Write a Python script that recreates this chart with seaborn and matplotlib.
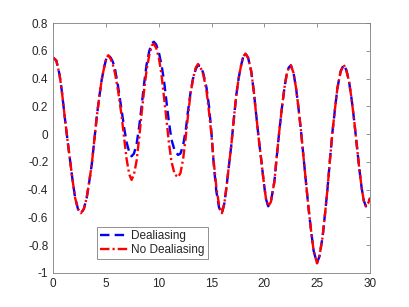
import numpy as np
import matplotlib
matplotlib.use('Agg')
import matplotlib.pyplot as plt
import seaborn as sns

# valores
t = [0.0, 0.3, 0.6, 0.82, 1.13, 1.4, 1.6, 1.85, 2.08, 2.35, 2.62, 2.9, 3.17, 3.4, 3.65, 3.9,
     4.12, 4.35, 4.59, 4.85, 5.05, 5.22, 5.45, 5.65, 5.85, 6.15, 6.48, 6.75, 6.95, 7.2, 7.42,
     7.65, 7.9, 8.15, 8.37, 8.6, 8.84, 9.1, 9.35, 9.53, 9.75, 10.0, 10.25, 10.5, 10.73, 10.95,
     11.2, 11.5, 11.82, 12.05, 12.3, 12.55, 12.77, 13.0, 13.24, 13.5, 13.71, 13.95, 14.2, 14.5,
     14.75, 14.97, 15.2, 15.44, 15.7, 15.97, 16.2, 16.39, 16.6, 16.86, 17.1, 17.33, 17.55, 17.8,
     18.0, 18.2, 18.45, 18.75, 19.0, 19.2, 19.45, 19.7, 19.95, 20.15, 20.35, 20.6, 20.94, 21.15,
     21.4, 21.65, 21.9, 22.1, 22.3, 22.5, 22.75, 22.99, 23.2, 23.46, 23.7, 23.93, 24.15, 24.4,
     24.65, 24.97, 25.2, 25.5, 25.75, 25.97, 26.2, 26.44, 26.7, 26.9, 27.2, 27.5, 27.75, 28.0,
     28.25, 28.5, 28.75, 28.96, 29.2, 29.4, 29.6, 29.8, 30.0]

no_dealias = [0.55, 0.53, 0.43, 0.31, 0.10, -0.07, -0.19, -0.34, -0.46, -0.54, -0.57, -0.54,
              -0.46, -0.35, -0.22, -0.04, 0.12, 0.26, 0.39, 0.49, 0.55, 0.568, 0.54, 0.50, 0.44,
              0.31, 0.13, -0.05, -0.18, -0.29, -0.33, -0.29, -0.19, -0.02, 0.15, 0.31, 0.46,
              0.57, 0.64, 0.65, 0.62, 0.55, 0.43, 0.26, 0.10, -0.06, -0.20, -0.29, -0.31, -0.28,
              -0.18, -0.02, 0.14, 0.29, 0.40, 0.48, 0.505, 0.48, 0.43, 0.32, 0.16, 0.0, -0.20,
              -0.38, -0.51, -0.57, -0.50, -0.39, -0.25, -0.08, 0.11, 0.28, 0.40, 0.50, 0.56,
              0.58, 0.55, 0.45, 0.30, 0.15, -0.03, -0.19, -0.36, -0.47, -0.52, -0.49, -0.34,
              -0.17, 0.02, 0.19, 0.34, 0.43, 0.48, 0.495, 0.44, 0.33, 0.20, 0.02, -0.17, -0.35,
              -0.52, -0.69, -0.84, -0.93, -0.88, -0.74, -0.56, -0.39, -0.18, 0.02, 0.20, 0.33,
              0.45, 0.50, 0.46, 0.38, 0.25, 0.09, -0.09, -0.24, -0.39, -0.48, -0.52, -0.50, -0.46]

dealias = [0.55, 0.53, 0.43, 0.31, 0.10, -0.07, -0.19, -0.34, -0.46, -0.54, -0.57, -0.54,
           -0.46, -0.35, -0.22, -0.04, 0.12, 0.26, 0.39, 0.49, 0.55, 0.568, 0.55, 0.52, 0.47,
           0.34, 0.17, 0.03, -0.06, -0.13, -0.16, -0.14, -0.07, 0.06, 0.20, 0.36, 0.50,
           0.60, 0.655, 0.665, 0.645, 0.59, 0.50, 0.38, 0.23, 0.09, -0.04, -0.12, -0.15, -0.14,
           -0.08, 0.03, 0.17, 0.30, 0.40, 0.47, 0.495, 0.49, 0.44, 0.34, 0.20, 0.02, -0.22,
           -0.41, -0.53, -0.57, -0.50, -0.39, -0.25, -0.08, 0.11, 0.28, 0.40, 0.50, 0.56,
           0.58, 0.55, 0.45, 0.30, 0.15, -0.03, -0.19, -0.36, -0.47, -0.52, -0.49, -0.34,
           -0.17, 0.02, 0.19, 0.34, 0.43, 0.48, 0.495, 0.44, 0.33, 0.20, 0.02, -0.17, -0.35,
           -0.52, -0.69, -0.84, -0.93, -0.88, -0.74, -0.56, -0.39, -0.18, 0.02, 0.20, 0.33,
           0.45, 0.50, 0.46, 0.38, 0.25, 0.09, -0.09, -0.24, -0.39, -0.48, -0.52, -0.50, -0.46]

xticks = [0, 5, 10, 15, 20, 25, 30]
yticks = [-1, -0.8, -0.6, -0.4, -0.2, 0, 0.2, 0.4, 0.6, 0.8]
ytick_labels = ['-1', '-0.8', '-0.6', '-0.4', '-0.2', '0', '0.2', '0.4', '0.6', '0.8']

sns.set_style('white')
plt.rcParams['font.family'] = ['Liberation Sans', 'DejaVu Sans']
plt.rcParams['axes.unicode_minus'] = False

fig = plt.figure(figsize=(4.09, 3.07), dpi=100)
ax = fig.add_axes([0.130, 0.111, 0.775, 0.814])

sns.lineplot(x=t, y=dealias, ax=ax, color='#0000ff', linewidth=1.7, linestyle='--',
             dashes=False, label='Dealiasing')
ax.lines[-1].set_dashes((4, 2.2))
sns.lineplot(x=t, y=no_dealias, ax=ax, color='#ff0000', linewidth=1.7, linestyle='-.',
             dashes=False, label='No Dealiasing')
ax.lines[-1].set_dashes((4, 1.3, 0.9, 1.3))

ax.set_xlim(0, 30)
ax.set_ylim(-1, 0.8)
ax.set_xticks(xticks)
ax.set_yticks(yticks)
ax.set_yticklabels(ytick_labels)
ax.set_xlabel('')
ax.set_ylabel('')

for s in ax.spines.values():
    s.set_visible(True)
    s.set_color('#7f7f7f')
    s.set_linewidth(0.6)
ax.tick_params(direction='in', length=3, width=0.6, color='#7f7f7f',
               top=True, right=True, labelsize=8.5, labelcolor='#262626', pad=3.5)

leg = ax.legend(loc='lower left', bbox_to_anchor=(0.139, 0.056), fontsize=8.5,
                frameon=True, fancybox=False, framealpha=1, edgecolor='#7f7f7f',
                handlelength=2.4, handletextpad=0.25, borderpad=0.25, labelspacing=0.15,
                borderaxespad=0)
leg.get_frame().set_linewidth(0.6)
for txt in leg.get_texts():
    txt.set_color('#262626')

fig.savefig('out.png', dpi=100)
